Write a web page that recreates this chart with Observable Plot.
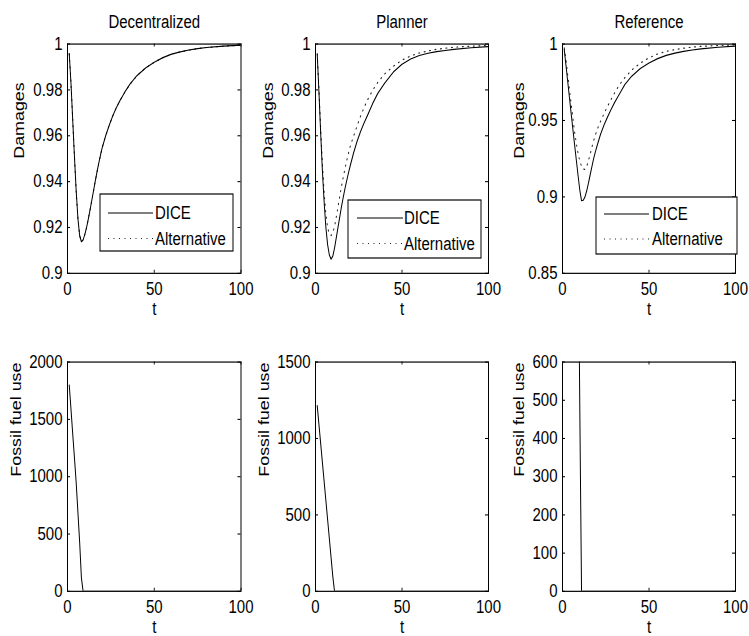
<!DOCTYPE html>
<html><head><meta charset="utf-8">
<script src="https://cdn.jsdelivr.net/npm/d3@7"></script>
<script src="https://cdn.jsdelivr.net/npm/@observablehq/plot@0.6"></script>
<style>
html,body{margin:0;padding:0;background:#fff;}
#fig{position:relative;width:749px;height:636px;overflow:hidden;background:#fff;}
#fig svg{position:absolute;}
</style></head><body><div id="fig"></div>
<script>
// ---- data ----
const panelTitles = ["Decentralized", "Planner", "Reference"];
const seriesNames = ["DICE", "Alternative"];

const tDamage = [1,2,3,4,5,6,7,8,9,10,11,12,13,14,15,16,17,18,19,20,22,24,26,28,30,33,36,40,45,50,55,60,65,70,75,80,90,100];

const decDICE = [0.9958,0.9830,0.9670,0.9510,0.9360,0.9240,0.9165,0.9138,0.9146,0.9170,0.9200,0.9237,0.9277,0.9318,0.9360,0.9402,0.9442,0.9480,0.9515,0.9548,
  0.9600,0.9645,0.9685,0.9720,0.9750,0.9790,0.9825,0.9862,0.9896,0.9921,0.9941,0.9956,0.9966,0.9974,0.9980,0.9985,0.9991,0.9995];
const decAlt = decDICE.slice(); // coincides with DICE in the reference picture

const planDICE = [0.9955,0.9790,0.9610,0.9445,0.9310,0.9200,0.9125,0.9080,0.9062,0.9075,0.9110,0.9155,0.9200,0.9245,0.9290,0.9330,0.9368,0.9403,0.9436,0.9467,
  0.9525,0.9575,0.9618,0.9655,0.9688,0.9740,0.9785,0.9830,0.9878,0.9912,0.9935,0.9950,0.9960,0.9967,0.9972,0.9977,0.9984,0.9989];
const planAlt = [0.9958,0.9800,0.9630,0.9478,0.9352,0.9258,0.9200,0.9172,0.9165,0.9175,0.9205,0.9245,0.9290,0.9335,0.9378,0.9418,0.9455,0.9490,0.9522,0.9552,
  0.9598,0.9642,0.9685,0.9722,0.9755,0.9798,0.9833,0.9870,0.9903,0.9930,0.9948,0.9961,0.9970,0.9977,0.9982,0.9986,0.9991,0.9994];

const refDICE = [0.9965,0.9862,0.9757,0.9652,0.9547,0.9443,0.9340,0.9240,0.9140,0.9045,0.8975,0.8978,0.9000,0.9040,0.9090,0.9145,0.9198,0.9250,0.9295,0.9335,
  0.9410,0.9470,0.9522,0.9570,0.9615,0.9675,0.9735,0.9790,0.9840,0.9876,0.9905,0.9926,0.9941,0.9952,0.9961,0.9968,0.9979,0.9987];
const refAlt = [0.9975,0.9900,0.9800,0.9705,0.9610,0.9515,0.9425,0.9350,0.9285,0.9235,0.9200,0.9182,0.9180,0.9200,0.9237,0.9280,0.9325,0.9368,0.9405,0.9440,
  0.9495,0.9545,0.9592,0.9636,0.9678,0.9735,0.9780,0.9830,0.9875,0.9910,0.9935,0.9952,0.9964,0.9973,0.9980,0.9985,0.9991,0.9995];

const tFossil = [1,2,3,4,5,6,7,8,9,10,11,12,20,50,100];
const decFossil  = [1800,1590,1375,1165,950,690,430,120,0,0,0,0,0,0,0];
const planFossil = [1215,1090,966,842,718,594,470,346,222,98,0,0,0,0,0];
const refFossil  = [null,null,null,null,null,null,null,null,1000,480,0,0,0,0,0]; // earlier values lie above the axis range

const xTicks = [0,50,100];
const damTicksA = [0.9,0.92,0.94,0.96,0.98,1];
const damTicksB = [0.85,0.9,0.95,1];
const fosTicksA = [0,500,1000,1500,2000];
const fosTicksB = [0,500,1000,1500];
const fosTicksC = [0,100,200,300,400,500,600];

// ---- layout ----
const S = 318/267;           // vertical stretch of the original figure
const HU = 267;              // unscaled svg height
const MT = 36.5, MB = 38;
const FONT = "'Liberation Sans', Arial, Helvetica, sans-serif";
const DOTS = "1,4.5";

const cols = [
  {left:0,   width:250, ml:67, mr:9.5},
  {left:250, width:250, ml:65, mr:12},
  {left:500, width:249, ml:62, mr:14}
];

const panels = [
  {row:0,col:0,title:panelTitles[0],ylabel:"Damages",domain:[0.9,1],ticks:damTicksA,t:tDamage,dice:decDICE,alt:decAlt,labDx:48,
   legend:{box:[100,233,194,251],line:[108,153],tx:155,rows:[213,238.5]}},
  {row:0,col:1,title:panelTitles[1],ylabel:"Damages",domain:[0.9,1],ticks:damTicksA,t:tDamage,dice:planDICE,alt:planAlt,labDx:47,
   legend:{box:[98,231,200,258],line:[107,153],tx:154,rows:[218,243.5]}},
  {row:0,col:2,title:panelTitles[2],ylabel:"Damages",domain:[0.85,1],ticks:damTicksB,t:tDamage,dice:refDICE,alt:refAlt,labDx:43,
   legend:{box:[96,237,197,254],line:[104,149],tx:152,rows:[214,239]}},
  {row:1,col:0,ylabel:"Fossil fuel use",domain:[0,2000],ticks:fosTicksA,t:tFossil,dice:decFossil,labDx:51.5},
  {row:1,col:1,ylabel:"Fossil fuel use",domain:[0,1500],ticks:fosTicksB,t:tFossil,dice:planFossil,labDx:51},
  {row:1,col:2,ylabel:"Fossil fuel use",domain:[0,600],ticks:fosTicksC,t:tFossil,dice:refFossil,labDx:43}
];

const fig = document.getElementById("fig");
const fmt = d => String(d);

for (const p of panels) {
  const c = cols[p.col];
  const W = c.width;
  const innerW = W - c.ml - c.mr;
  const innerH = HU - MT - MB;
  const solid = p.t.map((t,i)=>({t, v:p.dice[i]}));
  const marks = [
    Plot.tickX(xTicks, {x:d=>d, insetTop: innerH-2.6, stroke:"black", strokeWidth:0.9}),
    Plot.tickX(xTicks, {x:d=>d, insetBottom: innerH-2.6, stroke:"black", strokeWidth:0.9}),
    Plot.tickY(p.ticks, {y:d=>d, insetRight: innerW-3, stroke:"black", strokeWidth:0.9}),
    Plot.tickY(p.ticks, {y:d=>d, insetLeft: innerW-3, stroke:"black", strokeWidth:0.9})
  ];
  if (p.alt) {
    const dotted = p.t.map((t,i)=>({t, v:p.alt[i]}));
    marks.push(Plot.line(dotted, {x:"t", y:"v", stroke:"#222", strokeWidth:1, strokeDasharray:DOTS, clip:true}));
  }
  marks.push(Plot.line(solid, {x:"t", y:"v", stroke:"black", strokeWidth:1, clip:true, defined:d=>d.v!=null}));
  marks.push(Plot.frame({stroke:"black", strokeWidth:1}));
  if (p.title) marks.push(Plot.text([p.title], {text:d=>d, frameAnchor:"top", dy:-18, lineAnchor:"middle", fontSize:15}));
  marks.push(Plot.text(["t"], {text:d=>d, frameAnchor:"bottom", dy:30.5, lineAnchor:"middle", fontSize:15}));
  marks.push(Plot.text([p.ylabel], {text:d=>d, frameAnchor:"left", dx:-p.labDx, rotate:-90, lineAnchor:"middle", fontSize:15}));

  const svg = Plot.plot({
    width: W, height: HU,
    marginLeft: c.ml, marginRight: c.mr, marginTop: MT, marginBottom: MB,
    style: {fontFamily: FONT, fontSize: "15px", color: "black", background: "transparent", overflow: "visible"},
    x: {domain:[0,100], ticks:xTicks, tickSize:0, tickPadding:7.5, tickFormat:fmt, label:null},
    y: {domain:p.domain, ticks:p.ticks, tickSize:0, tickPadding:5, tickFormat:fmt, label:null},
    marks
  });

  if (p.legend) {
    const L = p.legend;
    const g = d3.select(svg).append("g").attr("font-family", FONT).attr("font-size", 15).attr("text-anchor", "start");
    g.append("rect")
      .attr("x", L.box[0]).attr("y", L.box[2]/S)
      .attr("width", L.box[1]-L.box[0]).attr("height", (L.box[3]-L.box[2])/S)
      .attr("fill", "white").attr("stroke", "black").attr("stroke-width", 1);
    seriesNames.forEach((name, i) => {
      const y = L.rows[i]/S;
      g.append("line").attr("x1", L.line[0]).attr("x2", L.line[1]).attr("y1", y).attr("y2", y)
        .attr("stroke", i === 1 ? "#222" : "black").attr("stroke-width", 1)
        .attr("stroke-dasharray", i === 1 ? DOTS : null);
      g.append("text").attr("x", L.tx).attr("y", y).attr("dy", "0.34em")
        .attr("text-anchor", "start").attr("fill", "black").text(name);
    });
  }

  // reproduce the figure's vertical stretch
  svg.setAttribute("preserveAspectRatio", "none");
  svg.setAttribute("width", W);
  svg.setAttribute("height", HU*S);
  svg.style.width = W + "px";
  svg.style.height = (HU*S) + "px";
  svg.style.maxWidth = "none";
  svg.style.left = c.left + "px";
  svg.style.top = (p.row === 0 ? 0 : 318) + "px";
  fig.appendChild(svg);
}
</script></body></html>
